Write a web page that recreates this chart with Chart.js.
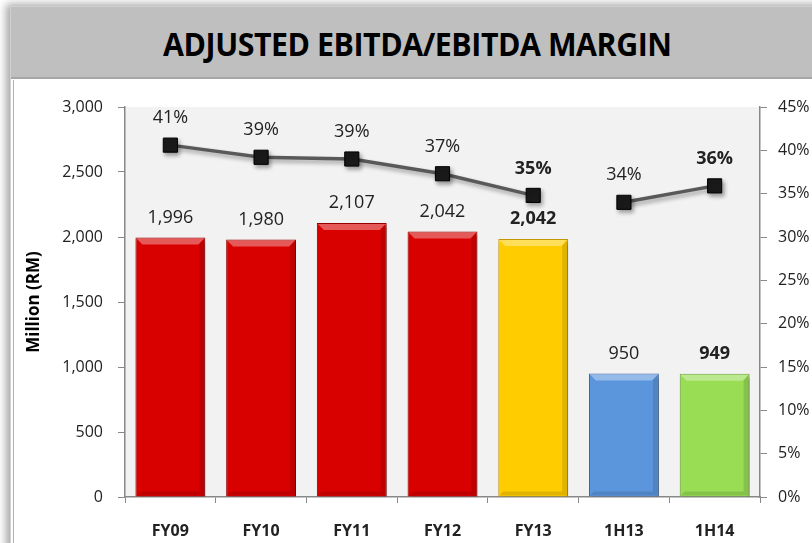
<!DOCTYPE html>
<html>
<head>
<meta charset="utf-8">
<script src="https://cdn.jsdelivr.net/npm/chart.js@4.4.0/dist/chart.umd.min.js"></script>
<style>
  html, body { margin: 0; padding: 0; background: #fff; }
  body { width: 812px; height: 543px; position: relative; overflow: hidden; }
  #frame {
    position: absolute; left: 10px; top: 6px; width: 820px; height: 560px;
    background: #fff; border: 1px solid #d0d0d0;
    box-shadow: -4px -2px 8px rgba(0,0,0,0.35);
  }
  #titlebar {
    position: absolute; left: 11px; top: 7px; width: 801px; height: 70px;
    background: #bfbfbf; border-bottom: 2px solid #a6a6a6;
    text-align: center; line-height: 74px;
    font-family: "Open Sans", sans-serif;
    font-weight: bold; font-size: 33px; color: #000;
  }
  #titlebar span { display: inline-block; position: relative; left: 6px; transform: scaleX(0.92); letter-spacing: -0.5px; }
  #panel { position: absolute; left: 13px; top: 80px; width: 799px; height: 463px; border-left: 1px solid #b0b0b0; }
  #wrap { position: absolute; left: 13px; top: 80px; width: 799px; height: 463px; }
</style>
</head>
<body>
<div id="frame"></div>
<div id="titlebar"><span>ADJUSTED EBITDA/EBITDA MARGIN</span></div>
<div id="panel"></div>
<div id="wrap"><canvas id="chart"></canvas></div>
<script>
const periods = ["FY09", "FY10", "FY11", "FY12", "FY13", "1H13", "1H14"];
const ebitda = [1996, 1980, 2107, 2042, 1985, 950, 949];
const ebitdaLabels = ["1,996", "1,980", "2,107", "2,042", "2,042", "950", "949"];
const margin = [40.6, 39.2, 39.0, 37.3, 34.8, 34.0, 35.9];
const marginLabels = ["41%", "39%", "39%", "37%", "35%", "34%", "36%"];
const boldLabels = [false, false, false, false, true, false, true];

const barColors = ["#d90000", "#d90000", "#d90000", "#d90000", "#ffcc00", "#5b96dd", "#99dd55"];
const barEdges = ["#9a0000", "#9a0000", "#9a0000", "#9a0000", "#c79a00", "#3b6ea8", "#6aa83a"];

const FONT = "'Open Sans', sans-serif";

const plotBg = {
  id: "plotBg",
  beforeDraw(chart) {
    const a = chart.chartArea, ctx = chart.ctx;
    ctx.save();
    ctx.fillStyle = "#f2f2f2";
    ctx.fillRect(a.left, a.top, a.right - a.left, a.bottom - a.top);
    ctx.restore();
  }
};

const shadows = {
  id: "shadows",
  beforeDatasetDraw(chart, args) {
    const ctx = chart.ctx;
    ctx.save();
    ctx.shadowColor = "rgba(0,0,0,0.35)";
    ctx.shadowBlur = 4;
    ctx.shadowOffsetX = 2;
    ctx.shadowOffsetY = 3;
  },
  afterDatasetDraw(chart) {
    chart.ctx.restore();
  }
};

// lighter bevel along the top of each bar, darker along the right and bottom
const bevel = {
  id: "bevel",
  afterDatasetDraw(chart, args) {
    if (args.index !== 1) return;
    const ctx = chart.ctx;
    args.meta.data.forEach((bar) => {
      const w = bar.width, x0 = bar.x - w / 2, x1 = bar.x + w / 2, y = bar.y, b = bar.base;
      ctx.save();
      ctx.fillStyle = "rgba(255,255,255,0.35)";
      ctx.beginPath();
      ctx.moveTo(x0 + 1, y + 1);
      ctx.lineTo(x1 - 1, y + 1);
      ctx.lineTo(x1 - 7, y + 7);
      ctx.lineTo(x0 + 7, y + 7);
      ctx.closePath();
      ctx.fill();
      ctx.fillStyle = "rgba(0,0,0,0.12)";
      ctx.beginPath();
      ctx.moveTo(x1 - 1, y + 1);
      ctx.lineTo(x1 - 1, b - 1);
      ctx.lineTo(x0 + 1, b - 1);
      ctx.lineTo(x0 + 5, b - 5);
      ctx.lineTo(x1 - 6, b - 5);
      ctx.lineTo(x1 - 6, y + 7);
      ctx.closePath();
      ctx.fill();
      ctx.restore();
    });
  }
};

const valueLabels = {
  id: "valueLabels",
  afterDraw(chart) {
    const ctx = chart.ctx;
    ctx.save();
    ctx.textAlign = "center";
    ctx.textBaseline = "middle";
    ctx.fillStyle = "#222";
    chart.getDatasetMeta(1).data.forEach((bar, i) => {
      ctx.font = (boldLabels[i] ? "bold " : "") + "18px " + FONT;
      ctx.fillText(ebitdaLabels[i], bar.x, bar.y - 20);
    });
    chart.getDatasetMeta(0).data.forEach((pt, i) => {
      ctx.font = (boldLabels[i] ? "bold " : "") + "18px " + FONT;
      ctx.fillText(marginLabels[i], pt.x, pt.y - 27);
    });
    ctx.restore();
  }
};

new Chart(document.getElementById("chart"), {
  data: {
    labels: periods,
    datasets: [
      {
        type: "line",
        label: "EBITDA margin",
        data: margin,
        yAxisID: "y1",
        order: 0,
        borderColor: "#595959",
        borderWidth: 3.5,
        pointStyle: "rect",
        pointRadius: 10,
        pointBackgroundColor: "#1a1a1a",
        pointBorderColor: "#000",
        pointBorderWidth: 1,
        segment: {
          borderColor: (c) => c.p0DataIndex === 4 ? "transparent" : "#595959"
        }
      },
      {
        type: "bar",
        label: "Adjusted EBITDA",
        data: ebitda,
        yAxisID: "y",
        order: 1,
        backgroundColor: barColors,
        borderColor: barEdges,
        borderWidth: 1,
        barPercentage: 0.77,
        categoryPercentage: 1
      }
    ]
  },
  options: {
    responsive: true,
    maintainAspectRatio: false,
    animation: false,
    layout: { padding: { top: 27, right: 0, bottom: 0, left: 0 } },
    plugins: {
      legend: { display: false },
      tooltip: { enabled: false }
    },
    scales: {
      x: {
        grid: { drawOnChartArea: false, tickLength: 6, color: "#888" },
        border: { color: "#888", width: 1.5 },
        ticks: { color: "#222", padding: 19, font: { family: FONT, size: 16, weight: "bold" } },
        afterFit(s) { s.height = 46; }
      },
      y: {
        position: "left",
        min: 0, max: 3000,
        grid: { drawOnChartArea: false, tickLength: 7, color: "#888" },
        border: { color: "#888", width: 1.5 },
        ticks: {
          stepSize: 500, color: "#222", padding: 15,
          font: { family: FONT, size: 16 },
          callback: (v) => v.toLocaleString("en-US")
        },
        title: {
          display: true, text: "Million (RM)", color: "#000",
          font: { family: FONT, size: 17, weight: "bold" },
          padding: { top: 11, bottom: 0 }
        },
        afterFit(s) { s.width = 112; }
      },
      y1: {
        position: "right",
        min: 0, max: 45,
        grid: { drawOnChartArea: false, tickLength: 7, color: "#888" },
        border: { color: "#888", width: 1.5 },
        ticks: {
          stepSize: 5, color: "#222", padding: 11,
          font: { family: FONT, size: 16 },
          callback: (v) => v + "%"
        },
        afterFit(s) { s.width = 52; }
      }
    }
  },
  plugins: [plotBg, shadows, bevel, valueLabels]
});
</script>
</body>
</html>
